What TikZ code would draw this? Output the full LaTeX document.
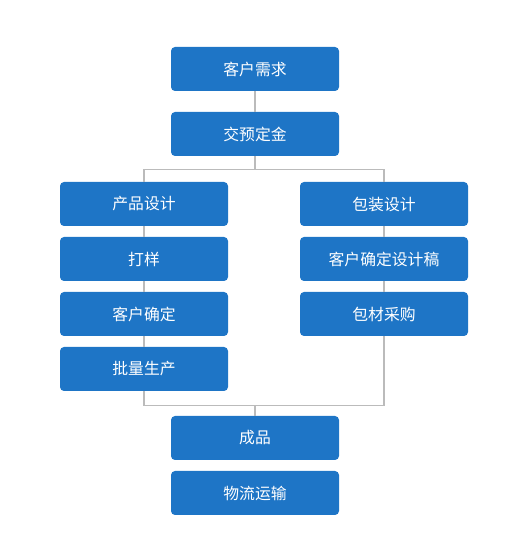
\documentclass[tikz,border=0pt]{standalone}
\usepackage{fontspec}
\newfontfamily\cjk{Noto Sans CJK SC}
\usetikzlibrary{positioning, calc}
\definecolor{boxblue}{RGB}{30, 117, 198}
\definecolor{linkgray}{RGB}{187, 187, 187}

\begin{document}
\begin{tikzpicture}[
    stepbox/.style={fill=boxblue, text=white, rounded corners=0.08cm,
        minimum width=3.36cm, minimum height=0.88cm, inner sep=0pt,
        font=\cjk\fontsize{9}{11}\selectfont},
    link/.style={draw=linkgray, line width=0.6pt}
]
    \useasboundingbox (0,0) rectangle (10.2,11);

    % main chain
    \node[stepbox] (xuqiu)  at (5.1, 9.62) {客户需求};
    \node[stepbox] (dingjin) at (5.1, 8.32) {交预定金};
    \node[stepbox] (chengpin) at (5.1, 2.24) {成品};
    \node[stepbox] (wuliu)  at (5.1, 1.14) {物流运输};

    % two branches
    \foreach \i/\y/\t in {1/6.92/产品设计, 2/5.82/打样, 3/4.72/客户确定, 4/3.62/批量生产}
        \node[stepbox] (cp\i) at (2.88, \y) {\t};
    \foreach \i/\y/\t in {1/6.92/包装设计, 2/5.82/客户确定设计稿, 3/4.72/包材采购}
        \node[stepbox] (bz\i) at (7.68, \y) {\t};

    \coordinate (split) at ($(dingjin.south)+(0,-0.26)$);
    \coordinate (join)  at ($(chengpin.north)+(0,0.2)$);

    \draw[link] (xuqiu.south) -- (dingjin.north);
    \draw[link] (dingjin.south) -- (split) -| (cp1.north);
    \draw[link] (split) -| (bz1.north);
    \foreach \a/\b in {1/2, 2/3, 3/4}
        \draw[link] (cp\a.south) -- (cp\b.north);
    \foreach \a/\b in {1/2, 2/3}
        \draw[link] (bz\a.south) -- (bz\b.north);
    \draw[link] (cp4.south) |- (join) -- (chengpin.north);
    \draw[link] (bz3.south) |- (join);
\end{tikzpicture}
\end{document}
